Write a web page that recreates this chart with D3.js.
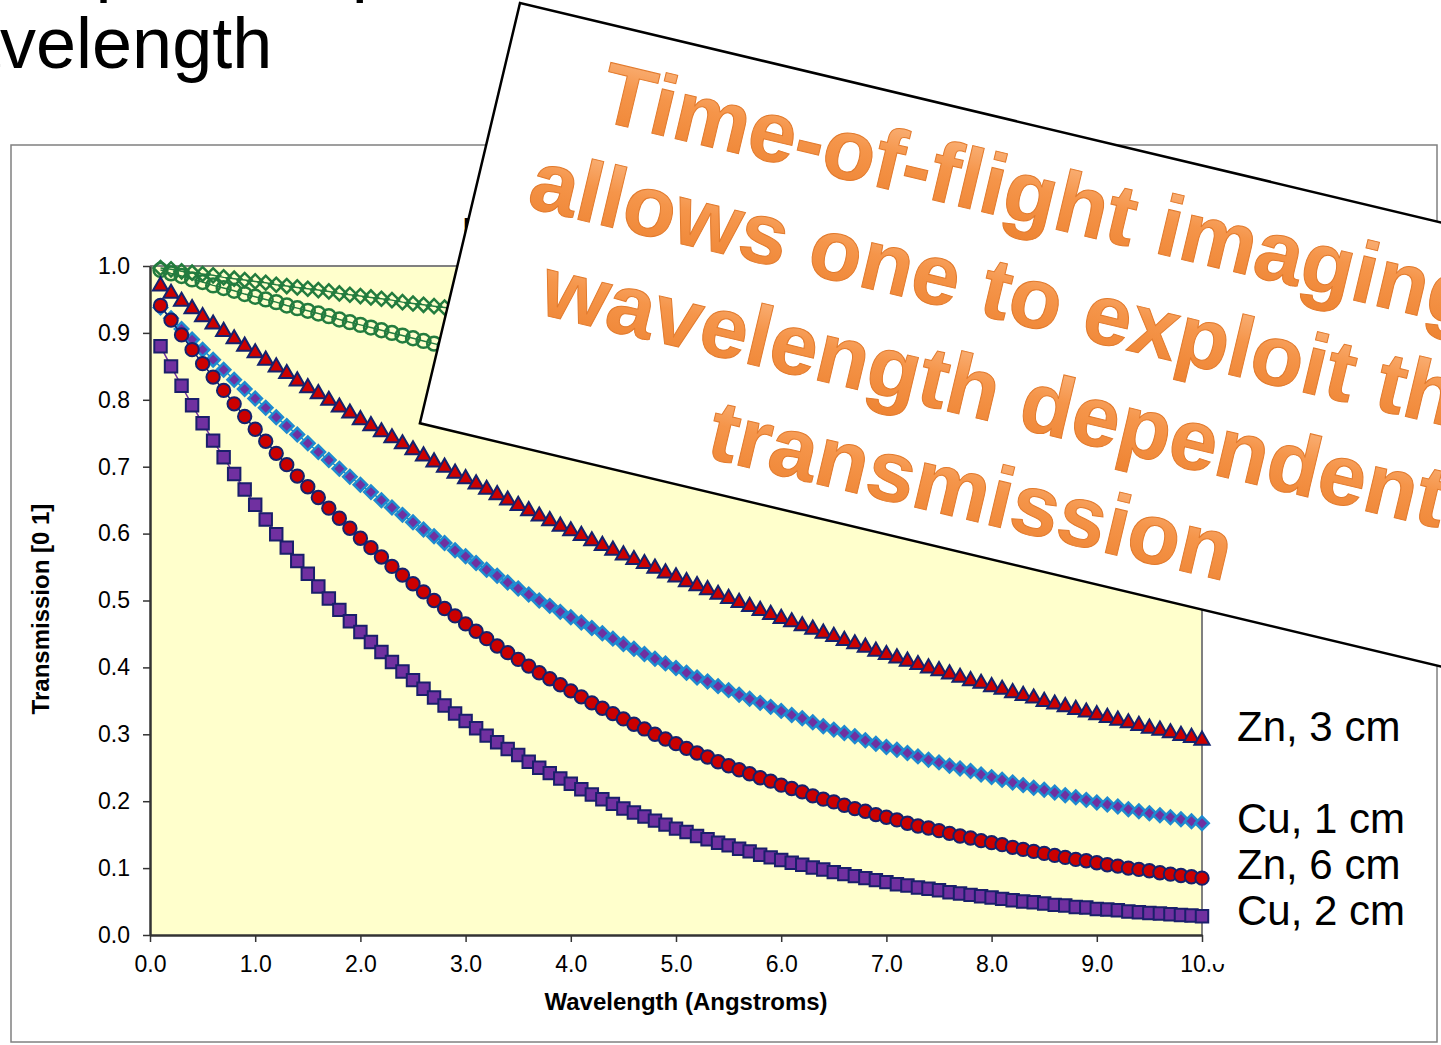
<!DOCTYPE html>
<html>
<head>
<meta charset="utf-8">
<script src="https://cdn.jsdelivr.net/npm/d3@7"></script>
<style>
  body { margin: 0; background: #fff; overflow: hidden; }
  svg { display: block; font-family: "Liberation Sans", Arial, sans-serif; }
</style>
</head>
<body>
<svg></svg>
<script>
// wavelength in Angstroms, one point every 0.1
const wavelength = [
  0.1,0.2,0.3,0.4,0.5,0.6,0.7,0.8,0.9,1.0,
  1.1,1.2,1.3,1.4,1.5,1.6,1.7,1.8,1.9,2.0,
  2.1,2.2,2.3,2.4,2.5,2.6,2.7,2.8,2.9,3.0,
  3.1,3.2,3.3,3.4,3.5,3.6,3.7,3.8,3.9,4.0,
  4.1,4.2,4.3,4.4,4.5,4.6,4.7,4.8,4.9,5.0,
  5.1,5.2,5.3,5.4,5.5,5.6,5.7,5.8,5.9,6.0,
  6.1,6.2,6.3,6.4,6.5,6.6,6.7,6.8,6.9,7.0,
  7.1,7.2,7.3,7.4,7.5,7.6,7.7,7.8,7.9,8.0,
  8.1,8.2,8.3,8.4,8.5,8.6,8.7,8.8,8.9,9.0,
  9.1,9.2,9.3,9.4,9.5,9.6,9.7,9.8,9.9,10.0
];

// two series hidden under the callout box (green)
const greenDiamond = [
  0.997,0.995,0.992,0.990,0.988,0.986,0.983,0.981,0.979,0.977,
  0.975,0.972,0.970,0.968,0.966,0.964,0.962,0.959,0.957,0.955,
  0.953,0.951,0.949,0.946,0.944,0.942,0.940,0.938,0.936,0.934,
  0.932,0.930,0.928,0.925,0.923,0.921,0.919,0.917,0.915,0.913,
  0.911,0.909,0.907,0.905,0.903,0.901,0.899,0.897,0.895,0.893,
  0.891,0.889,0.887,0.885,0.883,0.881,0.879,0.877,0.875,0.873,
  0.871,0.869,0.867,0.865,0.863,0.861,0.859,0.857,0.855,0.853,
  0.852,0.850,0.848,0.846,0.844,0.842,0.840,0.838,0.836,0.834,
  0.833,0.831,0.829,0.827,0.825,0.823,0.821,0.820,0.818,0.816,
  0.814,0.812,0.810,0.809,0.807,0.805,0.803,0.801,0.800,0.798
];

const greenCircle = [
  0.994,0.989,0.985,0.980,0.976,0.971,0.967,0.963,0.958,0.954,
  0.950,0.946,0.941,0.937,0.933,0.929,0.925,0.920,0.916,0.912,
  0.908,0.904,0.900,0.896,0.892,0.888,0.884,0.880,0.876,0.872,
  0.868,0.864,0.860,0.856,0.853,0.849,0.845,0.841,0.837,0.834,
  0.830,0.826,0.822,0.819,0.815,0.811,0.808,0.804,0.801,0.797,
  0.793,0.790,0.786,0.783,0.779,0.776,0.772,0.769,0.765,0.762,
  0.758,0.755,0.752,0.748,0.745,0.742,0.738,0.735,0.732,0.728,
  0.725,0.722,0.719,0.715,0.712,0.709,0.706,0.703,0.699,0.696,
  0.693,0.690,0.687,0.684,0.681,0.678,0.675,0.672,0.669,0.666,
  0.663,0.660,0.657,0.654,0.651,0.648,0.645,0.642,0.639,0.636
];

const zn3cm = [
  0.970,0.959,0.947,0.936,0.924,0.913,0.902,0.891,0.880,0.870,
  0.859,0.849,0.839,0.828,0.818,0.809,0.799,0.789,0.780,0.770,
  0.761,0.752,0.743,0.734,0.725,0.716,0.707,0.699,0.690,0.682,
  0.674,0.666,0.658,0.650,0.642,0.634,0.626,0.619,0.611,0.604,
  0.597,0.589,0.582,0.575,0.568,0.561,0.555,0.548,0.541,0.535,
  0.528,0.522,0.516,0.509,0.503,0.497,0.491,0.485,0.479,0.473,
  0.468,0.462,0.457,0.451,0.446,0.440,0.435,0.430,0.424,0.419,
  0.414,0.409,0.404,0.399,0.395,0.390,0.385,0.380,0.376,0.371,
  0.367,0.362,0.358,0.354,0.349,0.345,0.341,0.337,0.333,0.329,
  0.325,0.321,0.317,0.313,0.309,0.306,0.302,0.298,0.295,0.291
];

const cu1cm = [
  0.938,0.922,0.906,0.890,0.875,0.860,0.845,0.830,0.816,0.802,
  0.788,0.774,0.761,0.748,0.735,0.722,0.710,0.697,0.685,0.673,
  0.662,0.650,0.639,0.628,0.617,0.606,0.596,0.586,0.575,0.566,
  0.556,0.546,0.537,0.527,0.518,0.509,0.500,0.492,0.483,0.475,
  0.467,0.459,0.451,0.443,0.435,0.428,0.420,0.413,0.406,0.399,
  0.392,0.385,0.379,0.372,0.366,0.359,0.353,0.347,0.341,0.335,
  0.329,0.324,0.318,0.312,0.307,0.302,0.297,0.291,0.286,0.281,
  0.277,0.272,0.267,0.262,0.258,0.253,0.249,0.245,0.240,0.236,
  0.232,0.228,0.224,0.220,0.217,0.213,0.209,0.206,0.202,0.198,
  0.195,0.192,0.188,0.185,0.182,0.179,0.176,0.173,0.170,0.167
];

const zn6cm = [
  0.941,0.919,0.897,0.875,0.854,0.834,0.814,0.794,0.775,0.756,
  0.738,0.720,0.703,0.686,0.670,0.654,0.638,0.623,0.608,0.593,
  0.579,0.565,0.551,0.538,0.525,0.513,0.500,0.488,0.477,0.465,
  0.454,0.443,0.432,0.422,0.412,0.402,0.392,0.383,0.374,0.365,
  0.356,0.347,0.339,0.331,0.323,0.315,0.308,0.300,0.293,0.286,
  0.279,0.272,0.266,0.259,0.253,0.247,0.241,0.235,0.230,0.224,
  0.219,0.214,0.208,0.203,0.199,0.194,0.189,0.185,0.180,0.176,
  0.172,0.167,0.163,0.160,0.156,0.152,0.148,0.145,0.141,0.138,
  0.135,0.131,0.128,0.125,0.122,0.119,0.116,0.113,0.111,0.108,
  0.105,0.103,0.100,0.098,0.096,0.093,0.091,0.089,0.087,0.085
];

const cu2cm = [
  0.880,0.850,0.821,0.792,0.765,0.739,0.714,0.689,0.666,0.643,
  0.621,0.599,0.579,0.559,0.540,0.521,0.503,0.486,0.469,0.453,
  0.438,0.423,0.408,0.394,0.381,0.368,0.355,0.343,0.331,0.320,
  0.309,0.298,0.288,0.278,0.269,0.259,0.250,0.242,0.234,0.226,
  0.218,0.210,0.203,0.196,0.189,0.183,0.177,0.171,0.165,0.159,
  0.154,0.148,0.143,0.138,0.134,0.129,0.125,0.120,0.116,0.112,
  0.108,0.105,0.101,0.098,0.094,0.091,0.088,0.085,0.082,0.079,
  0.076,0.074,0.071,0.069,0.067,0.064,0.062,0.060,0.058,0.056,
  0.054,0.052,0.050,0.049,0.047,0.045,0.044,0.042,0.041,0.039,
  0.038,0.037,0.035,0.034,0.033,0.032,0.031,0.030,0.029,0.028
];

const xTicks = [0,1,2,3,4,5,6,7,8,9,10];
const yTicks = [0,0.1,0.2,0.3,0.4,0.5,0.6,0.7,0.8,0.9,1.0];

const seriesLabels = ["Zn, 3 cm", "Cu, 1 cm", "Zn, 6 cm", "Cu, 2 cm"];
const calloutLines = ["Time-of-flight imaging", "allows one to exploit the", "wavelength dependent", "transmission"];

const FONT = "'Liberation Sans', Arial, sans-serif";

// layout
const margin = { top: 266, left: 150 };
const width = 1052;
const height = 669;

const svg = d3.select("svg")
  .attr("width", 1441)
  .attr("height", 1045);

const defs = svg.append("defs");
const grad = defs.append("linearGradient")
  .attr("id", "orange")
  .attr("x1", 0).attr("y1", 0).attr("x2", 0).attr("y2", 1);
grad.append("stop").attr("offset", "0%").attr("stop-color", "#fbb985");
grad.append("stop").attr("offset", "45%").attr("stop-color", "#f5954a");
grad.append("stop").attr("offset", "100%").attr("stop-color", "#ee8433");

// slide title (cut off at the left / top)
svg.append("text")
  .attr("x", -430).attr("y", -12)
  .style("font-size", "72px")
  .text("Transmission depends upon");
svg.append("text")
  .attr("x", -92).attr("y", 68)
  .style("font-size", "72px")
  .text("wavelength");

// chart frame
svg.append("rect")
  .attr("x", 11).attr("y", 145)
  .attr("width", 1426).attr("height", 897)
  .attr("fill", "#fff")
  .attr("stroke", "#808080")
  .attr("stroke-width", 1.5);

// chart title, mostly under the callout
svg.append("text")
  .attr("x", 463).attr("y", 236)
  .style("font-size", "26px")
  .style("font-weight", "bold")
  .text("Neutron Transmission");

const g = svg.append("g")
  .attr("transform", `translate(${margin.left}, ${margin.top})`);

// scales
const x = d3.scaleLinear().domain([0, 10]).range([0, width]);
const y = d3.scaleLinear().domain([0, 1]).range([height, 0]);

// plot area
g.append("rect")
  .attr("width", width).attr("height", height)
  .attr("fill", "#ffffcc");
g.append("path")
  .attr("d", `M0,0H${width}V${height}`)
  .attr("fill", "none")
  .attr("stroke", "#808080")
  .attr("stroke-width", 2);

// axes
const xAxis = g.append("g")
  .attr("transform", `translate(0, ${height})`)
  .call(d3.axisBottom(x).tickValues(xTicks).tickFormat(d3.format(".1f"))
    .tickSize(7).tickSizeOuter(0).tickPadding(14));

const yAxis = g.append("g")
  .call(d3.axisLeft(y).tickValues(yTicks).tickFormat(d3.format(".1f"))
    .tickSize(7).tickSizeOuter(0).tickPadding(13));

[xAxis, yAxis].forEach(a => {
  a.select(".domain").attr("stroke", "#333").attr("stroke-width", 2.5);
  a.selectAll(".tick line").attr("stroke", "#333").attr("stroke-width", 1.5);
  a.selectAll(".tick text")
    .attr("fill", "#000")
    .style("font-size", "23px")
    .style("font-family", FONT);
});

// the last x label is partly hidden in the original slide
svg.append("rect")
  .attr("x", 1209).attr("y", 948)
  .attr("width", 20).attr("height", 16)
  .attr("fill", "#fff");

// axis titles
svg.append("text")
  .attr("x", 686).attr("y", 1010)
  .attr("text-anchor", "middle")
  .style("font-size", "24px")
  .style("font-weight", "bold")
  .text("Wavelength (Angstroms)");

svg.append("text")
  .attr("transform", "translate(49, 609) rotate(-90)")
  .attr("text-anchor", "middle")
  .style("font-size", "24px")
  .style("font-weight", "bold")
  .text("Transmission [0 1]");

// series
const line = d3.line()
  .x((d, i) => x(wavelength[i]))
  .y(d => y(d));

function drawSeries(values, o) {
  g.append("path")
    .datum(values)
    .attr("d", line)
    .attr("fill", "none")
    .attr("stroke", o.line)
    .attr("stroke-width", 1.5);

  g.selectAll(null)
    .data(values)
    .enter()
    .append("path")
    .attr("d", d3.symbol().type(o.type).size(o.size))
    .attr("transform", (d, i) => `translate(${x(wavelength[i])}, ${y(d)}) rotate(${o.rotate || 0})`)
    .attr("fill", o.fill)
    .attr("stroke", o.stroke)
    .attr("stroke-width", o.sw);
}

drawSeries(greenDiamond, { type: d3.symbolSquare, size: 100, rotate: 45, fill: "none", stroke: "#237c3e", sw: 2.5, line: "#237c3e" });
drawSeries(greenCircle, { type: d3.symbolCircle, size: 150, fill: "none", stroke: "#237c3e", sw: 2.5, line: "#237c3e" });
drawSeries(cu2cm, { type: d3.symbolSquare, size: 155, fill: "#7030a0", stroke: "#1a1f6b", sw: 2, line: "#7030a0" });
drawSeries(cu1cm, { type: d3.symbolSquare, size: 90, rotate: 45, fill: "#7030a0", stroke: "#1e8ad0", sw: 2.5, line: "#1e8ad0" });
drawSeries(zn6cm, { type: d3.symbolCircle, size: 140, fill: "#cc0000", stroke: "#14226e", sw: 2, line: "#14226e" });
drawSeries(zn3cm, { type: d3.symbolTriangle, size: 100, fill: "#cc0000", stroke: "#14226e", sw: 2, line: "#14226e" });

// series labels at the right
const labelY = [741, 833, 879, 925];
svg.selectAll("text.series-label")
  .data(seriesLabels)
  .enter()
  .append("text")
  .attr("class", "series-label")
  .attr("x", 1237)
  .attr("y", (d, i) => labelY[i])
  .style("font-size", "42px")
  .text(d => d);

// rotated callout on top of the chart
const box = svg.append("g")
  .attr("transform", "translate(520, 3) rotate(13.4)");

box.append("rect")
  .attr("width", 1150).attr("height", 432)
  .attr("fill", "#fff")
  .attr("stroke", "#000")
  .attr("stroke-width", 2.5);

box.selectAll("text")
  .data(calloutLines)
  .enter()
  .append("text")
  .attr("x", 552)
  .attr("y", (d, i) => 96 + i * 101)
  .attr("text-anchor", "middle")
  .style("font-size", "86px")
  .style("font-weight", "bold")
  .style("font-family", FONT)
  .attr("fill", "url(#orange)")
  .attr("stroke", "#e27a2c")
  .attr("stroke-width", 1)
  .text(d => d);
</script>
</body>
</html>
